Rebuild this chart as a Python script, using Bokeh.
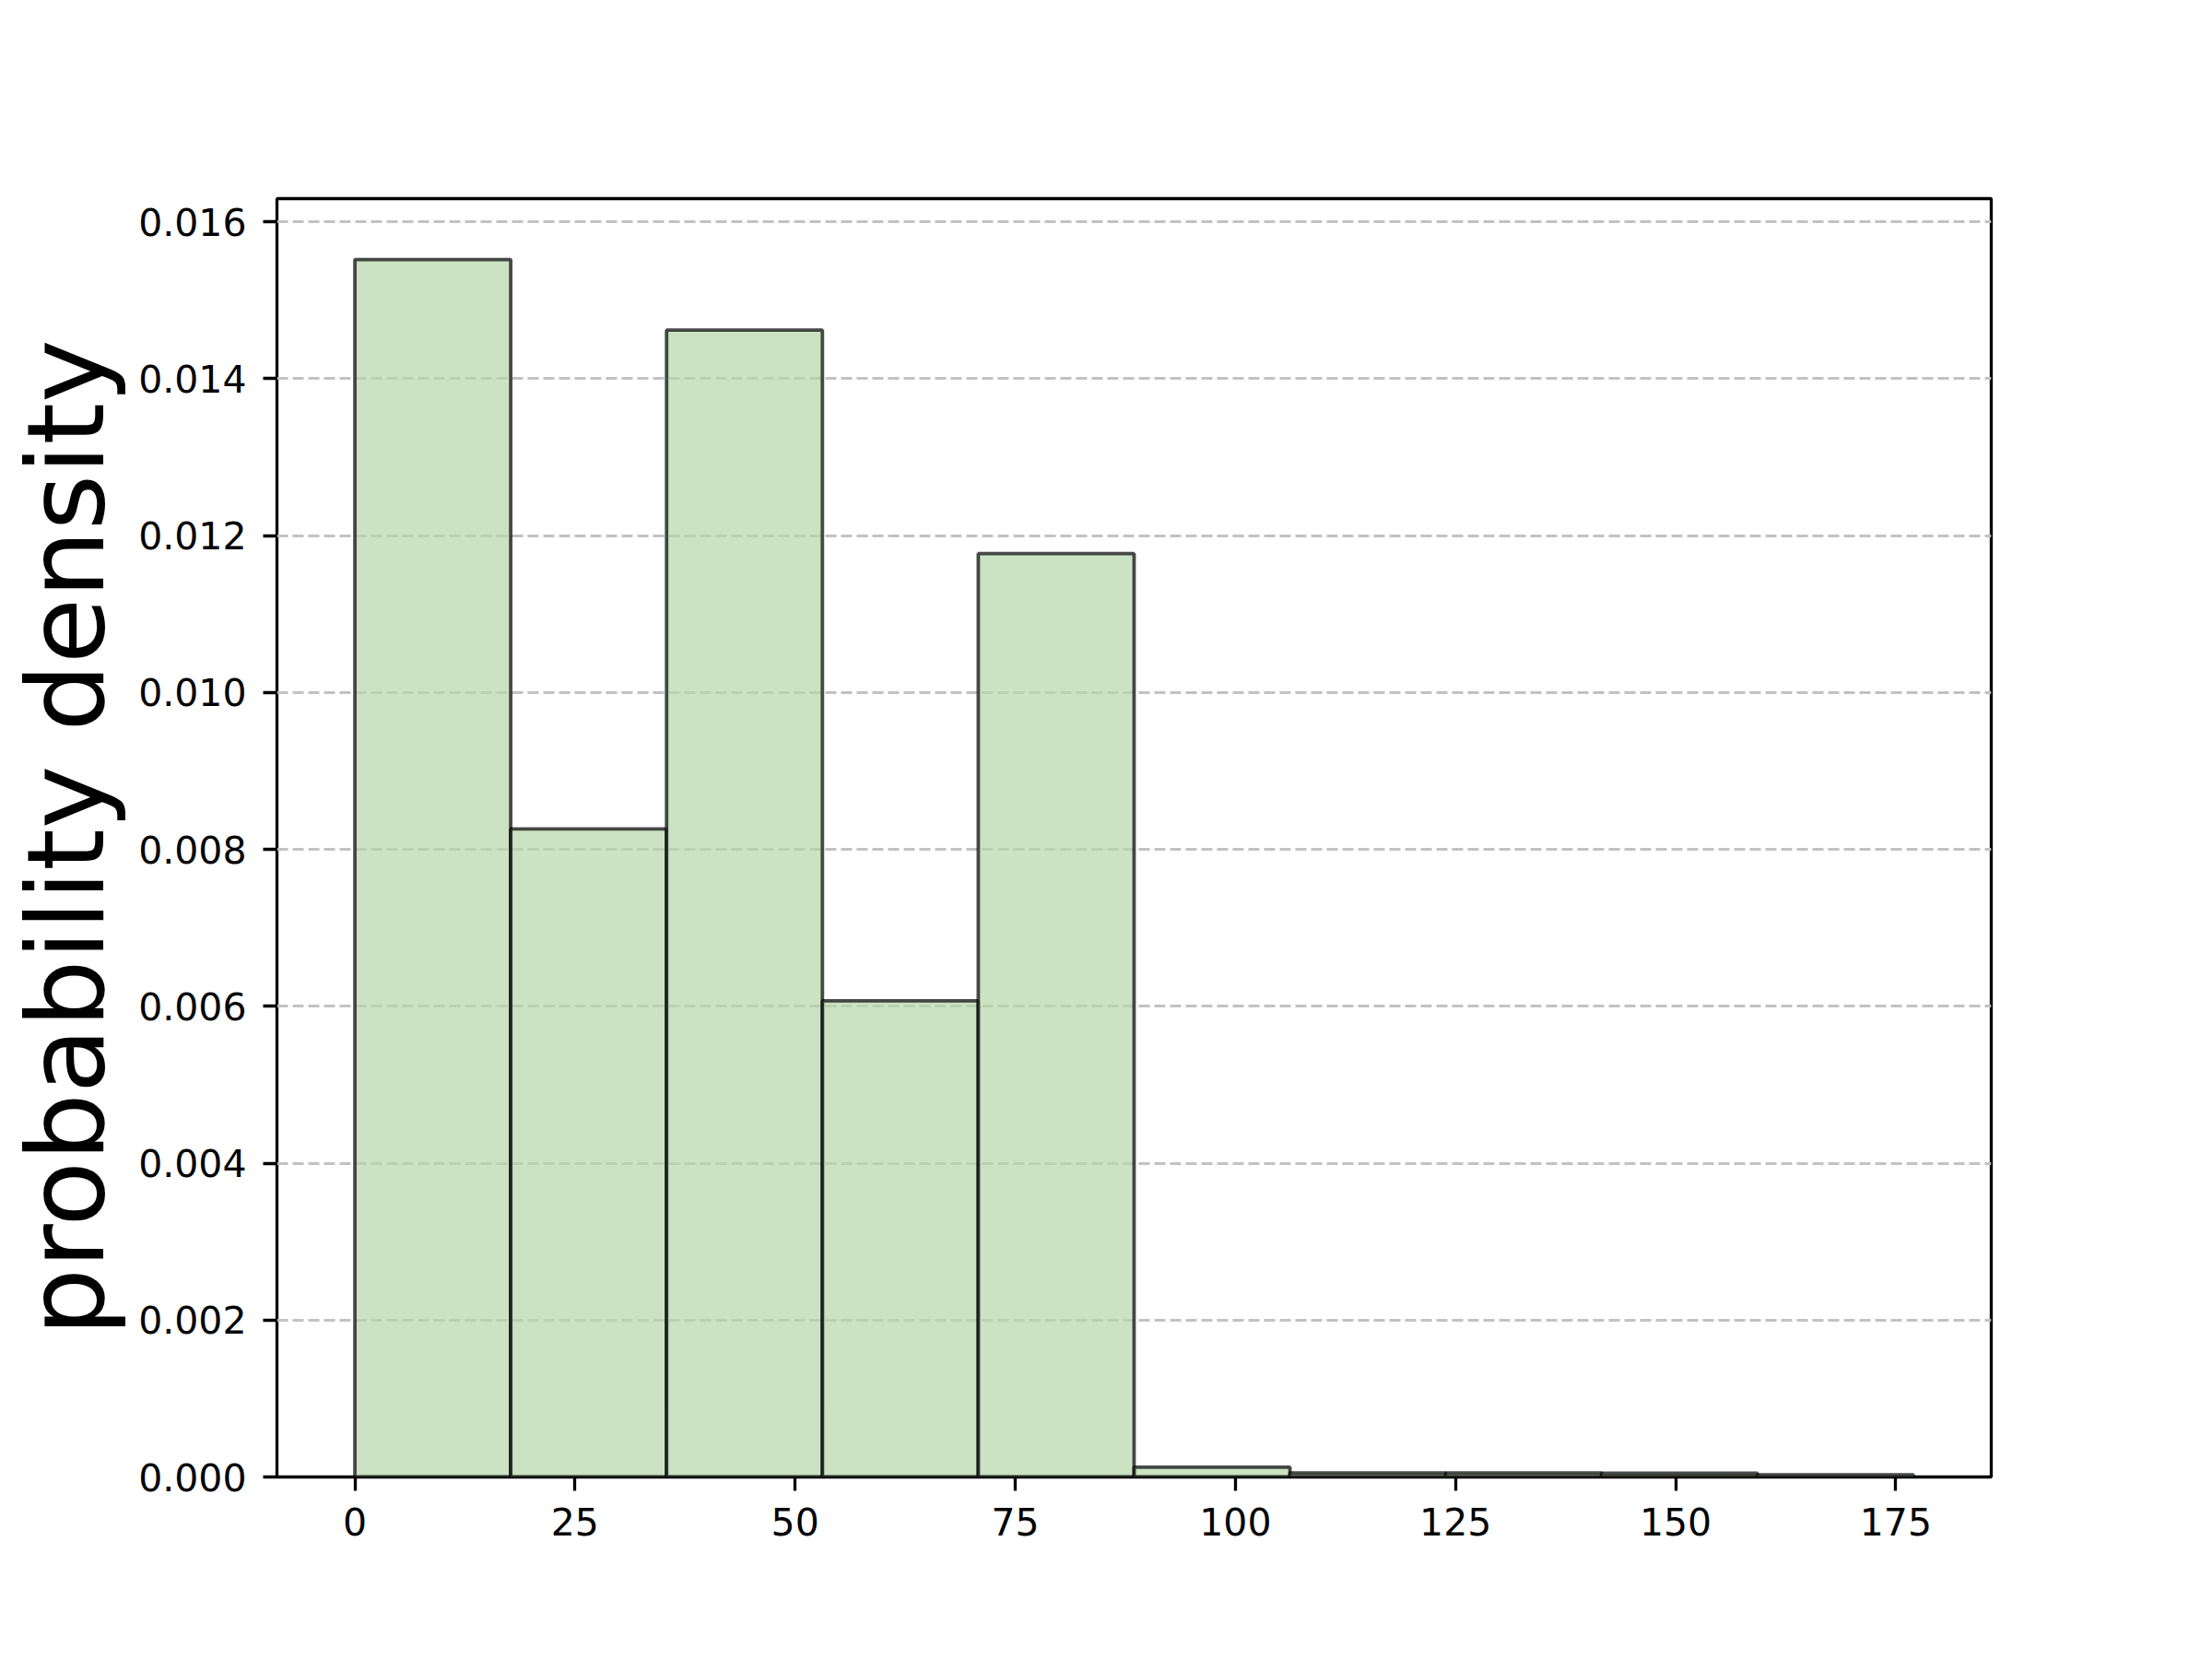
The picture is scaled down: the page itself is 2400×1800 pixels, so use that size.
from bokeh.plotting import figure
from bokeh.models import Range1d, FixedTicker, PrintfTickFormatter, ColumnDataSource
from bokeh.embed import file_html
from bokeh.resources import INLINE

# ---- data ----
bin_edges = [0.0, 17.7, 35.4, 53.1, 70.8, 88.5, 106.2, 123.9, 141.6, 159.3, 177.0]
density = [0.01552, 0.00826, 0.01462, 0.00607, 0.01177,
           0.000125, 0.00005, 0.00005, 0.000047, 0.000028]
x_ticks = [0, 25, 50, 75, 100, 125, 150, 175]
y_ticks = [0.000, 0.002, 0.004, 0.006, 0.008, 0.010, 0.012, 0.014, 0.016]
y_label = "probability density"

src = ColumnDataSource(dict(left=bin_edges[:-1], right=bin_edges[1:],
                            top=density, bottom=[0.0] * len(density)))

span = bin_edges[-1] - bin_edges[0]
xr = Range1d(bin_edges[0] - 0.05 * span, bin_edges[-1] + 0.05 * span)
yr = Range1d(0, max(density) * 1.05)

FONT = "DejaVu Sans"

p = figure(width=2384, height=1784, x_range=xr, y_range=yr,
           output_backend="svg", toolbar_location=None,
           min_border_left=300, min_border_right=224,
           min_border_top=215, min_border_bottom=182)

p.background_fill_color = "white"
p.border_fill_color = "white"
p.outline_line_color = "black"
p.outline_line_width = 3.3
p.outline_line_alpha = 1.0

p.quad(left="left", right="right", top="top", bottom="bottom", source=src,
       fill_color="#b5d6a9", fill_alpha=0.7,
       line_color="black", line_alpha=0.7, line_width=3.8)

# grid
p.xgrid.grid_line_color = None
p.ygrid.grid_line_color = "#c2c2c2"
p.ygrid.grid_line_width = 3.0
p.ygrid.grid_line_dash = "12 5"
p.ygrid.ticker = FixedTicker(ticks=y_ticks)

for ax in (p.xaxis[0], p.yaxis[0]):
    ax.axis_line_color = None
    ax.major_tick_line_color = "black"
    ax.major_tick_line_width = 3.3
    ax.major_tick_out = 15
    ax.major_tick_in = 0
    ax.minor_tick_line_color = None
    ax.major_label_text_font = FONT
    ax.major_label_text_font_size = "41px"
    ax.major_label_text_color = "black"
    ax.major_label_standoff = 18

p.xaxis.ticker = FixedTicker(ticks=x_ticks)
p.yaxis.ticker = FixedTicker(ticks=y_ticks)
p.yaxis.formatter = PrintfTickFormatter(format="%.3f")

p.yaxis.axis_label = y_label
p.yaxis.axis_label_text_font = FONT
p.yaxis.axis_label_text_font_size = "116px"
p.yaxis.axis_label_text_font_style = "normal"
p.yaxis.axis_label_text_color = "black"
p.yaxis.axis_label_standoff = 8

open("out.html", "w").write(file_html(p, INLINE))
